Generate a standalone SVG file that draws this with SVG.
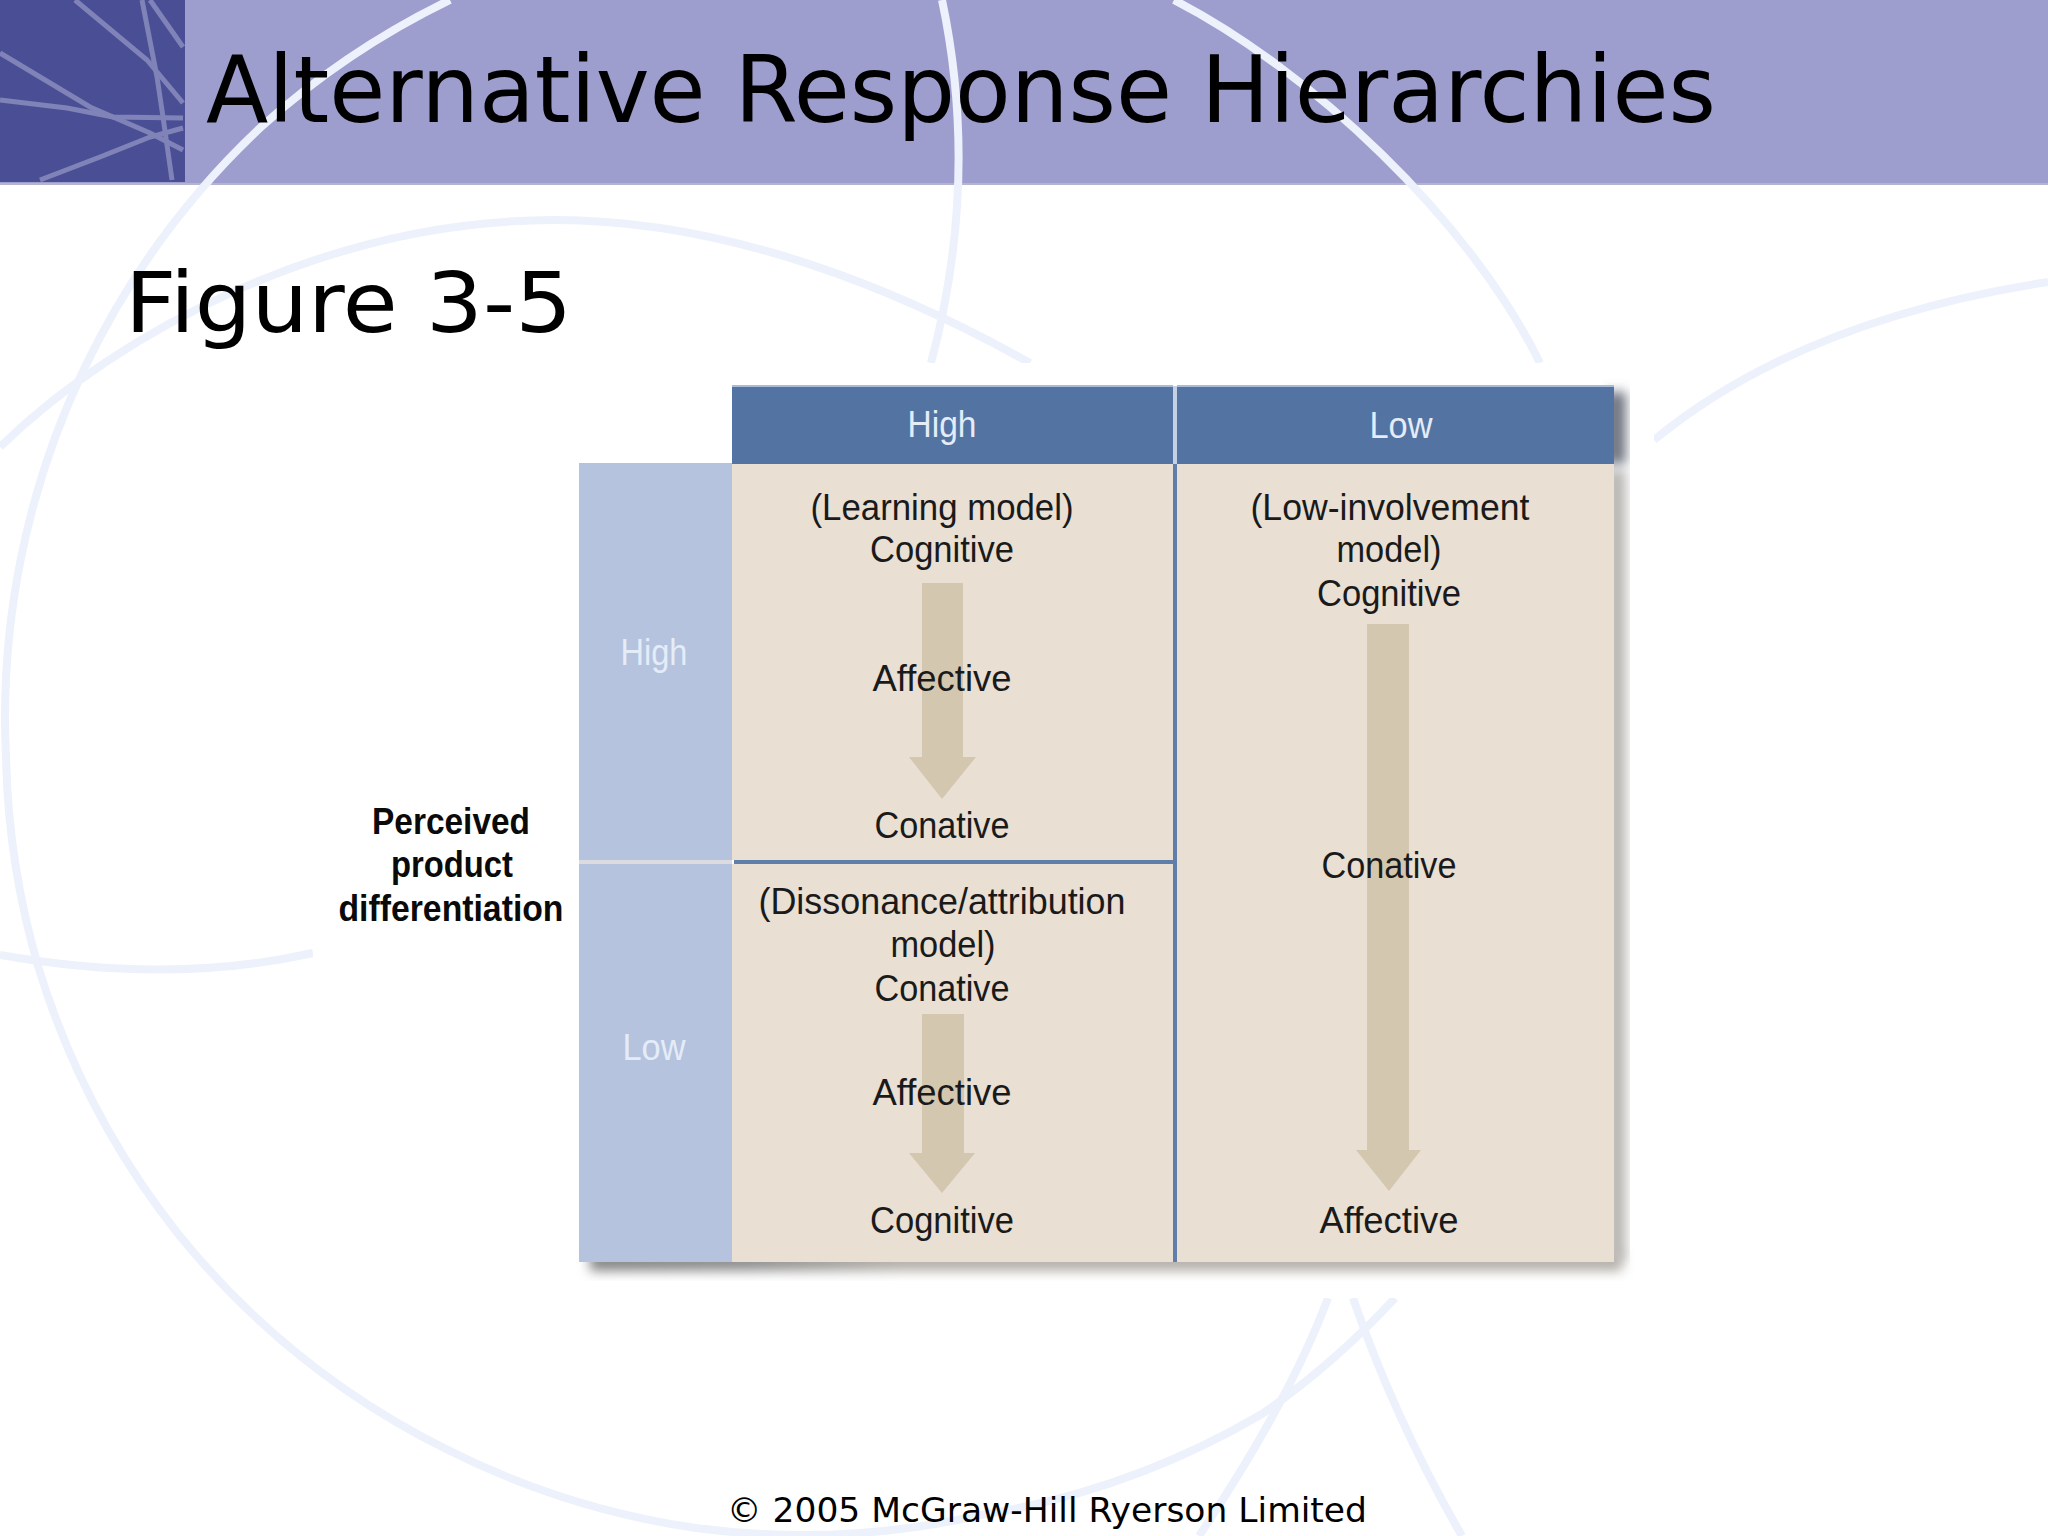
<svg xmlns="http://www.w3.org/2000/svg" width="2048" height="1536" viewBox="0 0 2048 1536">
<style>
.curve{fill:none;stroke:#ecf1fb;stroke-width:8;stroke-linecap:butt}
.sq{fill:none;stroke:#8083b8;stroke-width:5}
.dk{font-family:"DejaVu Sans",Verdana,sans-serif;fill:#000}
.t{font-family:"Liberation Sans",Arial,sans-serif;font-size:37px;text-anchor:middle;fill:#1a1a1a}
.w{fill:#e4ecf8}
.b{font-weight:bold;fill:#0a0a0a}
.arrow{fill:#d4c7b0}
</style>
<defs>
<filter id="blur" x="-20%" y="-50%" width="140%" height="200%"><feGaussianBlur stdDeviation="6"/></filter>
<linearGradient id="bottomShade" x1="0" y1="0" x2="1" y2="0">
<stop offset="0" stop-color="#858585"/>
<stop offset="0.15" stop-color="#8e8e8e"/>
<stop offset="0.3" stop-color="#b3afa9"/>
<stop offset="1" stop-color="#b3afa9"/>
</linearGradient>
</defs>
<rect width="2048" height="1536" fill="#fff"/>
<g id="banner">
<rect x="0" y="0" width="2048" height="184" fill="#9d9dce"/>
<rect x="0" y="183" width="2048" height="2" fill="#b4b4cc"/>
<rect x="0" y="0" width="185" height="182" fill="#4a4e95"/>
<path class="sq" d="M75 0L147 60L183 103"/>
<path class="sq" d="M142 0L157 77L163 117L172 180"/>
<path class="sq" d="M150 0L183 47"/>
<path class="sq" d="M0 53L90 107L150 133L183 150"/>
<path class="sq" d="M0 100L67 108L113 117L183 118"/>
<path class="sq" d="M40 180L100 157L150 137L183 128"/>
</g>
<g id="background-curves">
<path class="curve" d="M450 0A810 810 0 0 0 261 127A810 810 0 0 0 85 367A810 810 0 0 0 6 757A810 810 0 0 0 38 966A810 810 0 0 0 179 1235A810 810 0 0 0 446 1449A810 810 0 0 0 696 1528A810 810 0 0 0 981 1515A810 810 0 0 0 1262 1414A810 810 0 0 0 1395 1298"/>
<path class="curve" d="M0 447C120 330 330 220 555 220C730 220 900 290 1030 363"/>
<path class="curve" d="M942 0Q980 180 931 363"/>
<path class="curve" d="M1174 0C1310 70 1470 220 1540 363"/>
<path class="curve" d="M2048 282Q1800 320 1654 440"/>
<path class="curve" d="M0 955Q170 985 313 953"/>
<path class="curve" d="M1328 1298Q1290 1400 1199 1536"/>
<path class="curve" d="M1353 1298Q1395 1420 1462 1536"/>
</g>
<rect id="figure-backing" x="313" y="363" width="1341" height="935" fill="#fff"/>
<g id="titles">
<text class="dk" x="206" y="122" font-size="92" textLength="1510" lengthAdjust="spacingAndGlyphs">Alternative Response Hierarchies</text>
<text class="dk" x="125" y="332" font-size="84" textLength="447" lengthAdjust="spacingAndGlyphs">Figure 3-5</text>
<text class="dk" x="727" y="1522" font-size="34" textLength="640" lengthAdjust="spacingAndGlyphs">© 2005 McGraw-Hill Ryerson Limited</text>
</g>
<g id="figure-shadow">
<rect x="590" y="1252" width="1032" height="19" fill="url(#bottomShade)" filter="url(#blur)"/>
<rect x="1606" y="470" width="20" height="790" fill="#b9b7b4" filter="url(#blur)"/>
<rect x="1606" y="392" width="20" height="72" fill="#6f7480" filter="url(#blur)"/>
</g>
<g id="header-high">
<rect x="732" y="386" width="441" height="78" fill="#5374a3"/>
<rect x="732" y="385" width="441" height="2" fill="#a9bbd6"/>
<text class="t w" x="942" y="437" textLength="69" lengthAdjust="spacingAndGlyphs">High</text>
</g>
<g id="header-low">
<rect x="1177" y="386" width="437" height="78" fill="#5374a3"/>
<rect x="1177" y="385" width="437" height="2" fill="#a9bbd6"/>
<text class="t w" x="1401" y="438" textLength="63" lengthAdjust="spacingAndGlyphs">Low</text>
</g>
<g id="row-high">
<rect x="579" y="463" width="153" height="397" fill="#b5c3de"/>
<text class="t w" x="654" y="665" textLength="67" lengthAdjust="spacingAndGlyphs">High</text>
</g>
<g id="row-low">
<rect x="579" y="864" width="153" height="398" fill="#b5c3de"/>
<text class="t w" x="654" y="1060" textLength="63" lengthAdjust="spacingAndGlyphs">Low</text>
</g>
<rect x="579" y="860" width="153" height="4" fill="#dcdbe0"/>
<g id="cell-high-high"><rect x="732" y="464" width="441" height="396" fill="#e9dfd3"/></g>
<g id="cell-low-high"><rect x="732" y="864" width="441" height="398" fill="#e9dfd3"/></g>
<g id="cell-right"><rect x="1177" y="464" width="437" height="798" fill="#e9dfd3"/></g>
<rect x="734" y="860" width="439" height="4" fill="#5f7ea9"/>
<rect x="1173" y="386" width="4" height="78" fill="#c4d0e3"/>
<rect x="1173" y="464" width="4" height="798" fill="#5f7ea9"/>
<g id="connectors">
<path class="arrow" d="M922 583H963V757H976L942 799L909 757H922Z"/>
<path class="arrow" d="M922 1014H964V1153H975L942 1193L909 1153H922Z"/>
<path class="arrow" d="M1367 624H1409V1150H1421L1389 1191L1356 1150H1367Z"/>
</g>
<g id="label-perceived">
<text class="t b" x="451" y="834" textLength="158" lengthAdjust="spacingAndGlyphs">Perceived</text>
<text class="t b" x="452" y="877" textLength="122" lengthAdjust="spacingAndGlyphs">product</text>
<text class="t b" x="451" y="921" textLength="225" lengthAdjust="spacingAndGlyphs">differentiation</text>
</g>
<g id="text-high-high">
<text class="t" x="942" y="520" textLength="263" lengthAdjust="spacingAndGlyphs">(Learning model)</text>
<text class="t" x="942" y="562" textLength="144" lengthAdjust="spacingAndGlyphs">Cognitive</text>
<text class="t" x="942" y="691" textLength="139" lengthAdjust="spacingAndGlyphs">Affective</text>
<text class="t" x="942" y="838" textLength="135" lengthAdjust="spacingAndGlyphs">Conative</text>
</g>
<g id="text-low-high">
<text class="t" x="942" y="914" textLength="367" lengthAdjust="spacingAndGlyphs">(Dissonance/attribution</text>
<text class="t" x="943" y="957" textLength="105" lengthAdjust="spacingAndGlyphs">model)</text>
<text class="t" x="942" y="1001" textLength="135" lengthAdjust="spacingAndGlyphs">Conative</text>
<text class="t" x="942" y="1105" textLength="139" lengthAdjust="spacingAndGlyphs">Affective</text>
<text class="t" x="942" y="1233" textLength="144" lengthAdjust="spacingAndGlyphs">Cognitive</text>
</g>
<g id="text-right">
<text class="t" x="1390" y="520" textLength="279" lengthAdjust="spacingAndGlyphs">(Low-involvement</text>
<text class="t" x="1389" y="562" textLength="105" lengthAdjust="spacingAndGlyphs">model)</text>
<text class="t" x="1389" y="606" textLength="144" lengthAdjust="spacingAndGlyphs">Cognitive</text>
<text class="t" x="1389" y="878" textLength="135" lengthAdjust="spacingAndGlyphs">Conative</text>
<text class="t" x="1389" y="1233" textLength="139" lengthAdjust="spacingAndGlyphs">Affective</text>
</g>
</svg>
